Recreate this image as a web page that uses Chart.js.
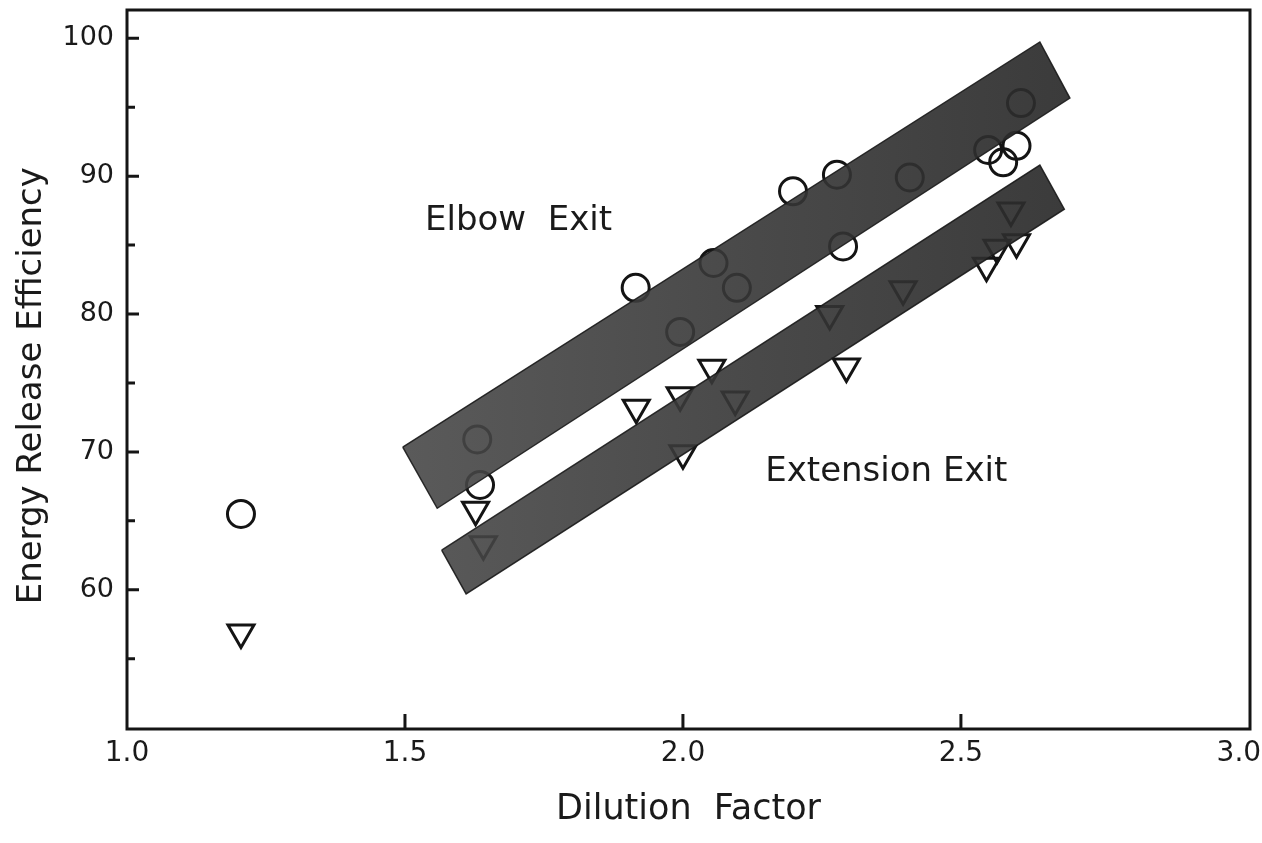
<!DOCTYPE html>
<html>
<head>
<meta charset="utf-8">
<script src="https://cdn.jsdelivr.net/npm/chart.js@4.4.1/dist/chart.umd.min.js"></script>
<style>
  html, body { margin: 0; padding: 0; background: #ffffff; }
  #c { display: block; }
</style>
</head>
<body>
<canvas id="c" width="1262" height="843"></canvas>
<script>
// ---- Axis ticks ----
const xTicks = [1.0, 1.5, 2.0, 2.5, 3.0];
const xTickLabels = ['1.0', '1.5', '2.0', '2.5', '3.0'];
const xMajorMarks = [1.5, 2.0, 2.5];
const yTicks = [60, 70, 80, 90, 100];
const yTickLabels = ['60', '70', '80', '90', '100'];
const yMinorTicks = [55, 65, 75, 85, 95];

// ---- Elbow Exit (circles) ----
const elbowX = [1.205, 1.630, 1.635, 1.915, 1.995, 2.055, 2.097, 2.198, 2.277, 2.288, 2.408, 2.549, 2.576, 2.600, 2.608];
const elbowY = [65.5, 70.9, 67.6, 81.9, 78.7, 83.7, 81.9, 88.9, 90.1, 84.9, 89.9, 91.9, 91.0, 92.2, 95.3];

// ---- Extension Exit (triangles) ----
const extX = [1.205, 1.627, 1.641, 1.916, 1.995, 2.000, 2.052, 2.094, 2.264, 2.294, 2.396, 2.546, 2.565, 2.600, 2.590];
const extY = [56.9, 65.8, 63.3, 73.2, 74.1, 69.9, 76.1, 73.8, 80.0, 76.2, 81.8, 83.5, 84.8, 85.2, 87.5];

// ---- Shaded bands (corner points in data units) ----
const elbowBandX = [1.496, 2.642, 2.696, 1.558];
const elbowBandY = [70.35, 99.73, 95.66, 65.91];
const extBandX = [1.566, 2.642, 2.686, 1.610];
const extBandY = [62.87, 90.80, 87.60, 59.70];

// ---- In-plot labels ----
const labelTexts = ['Elbow  Exit', 'Extension Exit'];
const labelX = [1.536, 2.148];
const labelY = [86.1, 67.9];

const toPts = (xs, ys) => xs.map((x, i) => ({ x: x, y: ys[i] }));
const closed = (xs, ys) => { const p = toPts(xs, ys); p.push(p[0]); return p; };

function bandFill(ctx) {
  const chart = ctx.chart;
  const a = chart.chartArea;
  if (!a) return 'rgba(60,60,60,0.9)';
  const g = chart.ctx.createLinearGradient(a.left + 280, 0, a.left + 950, 0);
  g.addColorStop(0, 'rgba(72,72,72,0.90)');
  g.addColorStop(0.5, 'rgba(54,54,54,0.90)');
  g.addColorStop(1, 'rgba(42,42,42,0.92)');
  return g;
}

const bgPlugin = {
  id: 'bg',
  beforeDraw(chart) {
    const c = chart.ctx;
    c.save();
    c.fillStyle = '#ffffff';
    c.fillRect(0, 0, chart.width, chart.height);
    c.restore();
  }
};

const framePlugin = {
  id: 'frame',
  afterDatasetsDraw(chart) {
    const c = chart.ctx;
    const a = chart.chartArea;
    const xs = chart.scales.x, ys = chart.scales.y;
    c.save();
    c.strokeStyle = '#151515';
    c.lineWidth = 3;
    c.lineCap = 'butt';
    c.strokeRect(a.left, a.top, a.right - a.left, a.bottom - a.top);
    c.beginPath();
    xMajorMarks.forEach(v => {
      const px = xs.getPixelForValue(v);
      c.moveTo(px, a.bottom);
      c.lineTo(px, a.bottom - 15);
    });
    yTicks.forEach(v => {
      const py = ys.getPixelForValue(v);
      c.moveTo(a.left, py);
      c.lineTo(a.left + 12, py);
    });
    yMinorTicks.forEach(v => {
      const py = ys.getPixelForValue(v);
      c.moveTo(a.left, py);
      c.lineTo(a.left + 8, py);
    });
    c.stroke();

    c.fillStyle = '#1a1a1a';
    c.font = '34px "DejaVu Sans"';
    c.textAlign = 'left';
    c.textBaseline = 'alphabetic';
    labelTexts.forEach((t, i) => {
      c.fillText(t, xs.getPixelForValue(labelX[i]), ys.getPixelForValue(labelY[i]));
    });
    c.restore();
  }
};

new Chart(document.getElementById('c'), {
  type: 'scatter',
  data: {
    datasets: [
      {
        type: 'line',
        label: 'Elbow band',
        data: closed(elbowBandX, elbowBandY),
        showLine: true,
        fill: 'shape',
        backgroundColor: bandFill,
        borderColor: 'rgba(25,25,25,0.9)',
        borderWidth: 1.5,
        pointRadius: 0,
        tension: 0,
        order: 0
      },
      {
        type: 'line',
        label: 'Extension band',
        data: closed(extBandX, extBandY),
        showLine: true,
        fill: 'shape',
        backgroundColor: bandFill,
        borderColor: 'rgba(25,25,25,0.9)',
        borderWidth: 1.5,
        pointRadius: 0,
        tension: 0,
        order: 0
      },
      {
        label: 'Elbow Exit',
        data: toPts(elbowX, elbowY),
        pointStyle: 'circle',
        pointRadius: 13.5,
        pointBorderWidth: 3,
        pointBorderColor: '#141414',
        pointBackgroundColor: 'rgba(0,0,0,0)',
        order: 1
      },
      {
        label: 'Extension Exit',
        data: toPts(extX, extY),
        pointStyle: 'triangle',
        pointRotation: 180,
        pointRadius: 15,
        pointBorderWidth: 3,
        pointBorderColor: '#141414',
        pointBackgroundColor: 'rgba(0,0,0,0)',
        order: 1
      }
    ]
  },
  options: {
    responsive: false,
    animation: false,
    devicePixelRatio: 1,
    layout: { autoPadding: false, padding: { top: 10, right: 12, left: 0, bottom: 0 } },
    plugins: { legend: { display: false }, tooltip: { enabled: false } },
    scales: {
      x: {
        type: 'linear',
        min: 1.0,
        max: 3.02,
        afterFit(s) { s.height = 114; s.paddingLeft = 0; s.paddingRight = 0; },
        afterBuildTicks(s) { s.ticks = xTicks.map(v => ({ value: v })); },
        ticks: {
          callback: (v, i) => xTickLabels[i],
          color: '#1a1a1a',
          font: { family: 'DejaVu Sans', size: 28 },
          padding: 8,
          maxRotation: 0,
          autoSkip: false
        },
        grid: { display: false, drawTicks: false },
        border: { display: false },
        title: {
          display: true,
          text: 'Dilution  Factor',
          color: '#1a1a1a',
          font: { family: 'DejaVu Sans', size: 35 },
          padding: { top: 0, bottom: 12 }
        }
      },
      y: {
        type: 'linear',
        min: 49.9,
        max: 102.05,
        afterFit(s) { s.width = 127; s.paddingTop = 0; s.paddingBottom = 0; },
        afterBuildTicks(s) { s.ticks = yTicks.map(v => ({ value: v })); },
        ticks: {
          callback: (v, i) => yTickLabels[i],
          color: '#1a1a1a',
          font: { family: 'DejaVu Sans', size: 27 },
          padding: 13,
          autoSkip: false
        },
        grid: { display: false, drawTicks: false },
        border: { display: false },
        title: {
          display: true,
          text: 'Energy Release Efficiency   ',
          color: '#1a1a1a',
          font: { family: 'DejaVu Sans', size: 34 },
          padding: { top: 12, bottom: 0 }
        }
      }
    }
  },
  plugins: [bgPlugin, framePlugin]
});
</script>
</body>
</html>
